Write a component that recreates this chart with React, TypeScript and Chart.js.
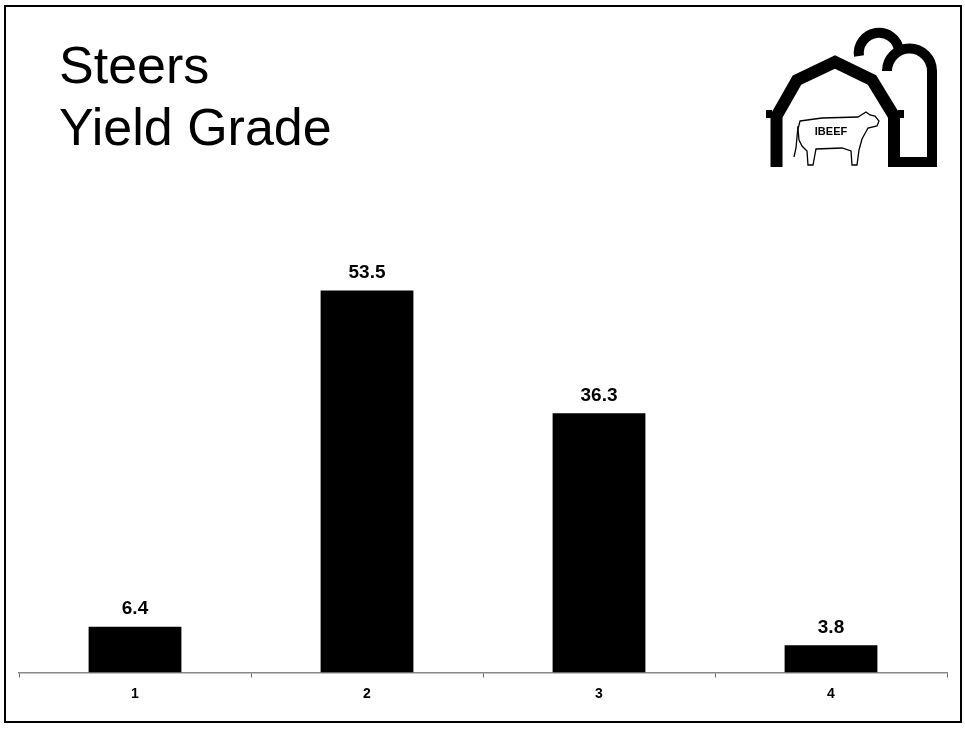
import React, { useEffect, useRef } from "react";
import { Chart, registerables } from "chart.js";

Chart.register(...registerables);

const titleLines = ["Steers", "Yield Grade"];
const categories = ["1", "2", "3", "4"];
const yieldGradePct = [6.4, 53.5, 36.3, 3.8];
const yMin = 0;
const yMax = 60;

const FONT = '"Liberation Sans", Arial, Helvetica, sans-serif';

const valueLabelPlugin = {
  id: "valueLabels",
  afterDatasetsDraw(chart: any) {
    const ctx = chart.ctx;
    const meta = chart.getDatasetMeta(0);
    const data = chart.data.datasets[0].data as number[];
    ctx.save();
    ctx.fillStyle = "#000";
    ctx.font = `bold 19px ${FONT}`;
    ctx.textAlign = "center";
    ctx.textBaseline = "alphabetic";
    meta.data.forEach((bar: any, i: number) => {
      ctx.fillText(Number(data[i]).toFixed(1), bar.x, bar.y - 12.5);
    });
    ctx.restore();
  },
};

function Logo() {
  return (
    <svg
      width={200}
      height={160}
      viewBox="750 20 200 160"
      style={{ position: "absolute", left: 750, top: 20 }}
    >
      {/* back silo arch */}
      <path d="M 859 56 A 20 20 0 0 1 899 50" fill="none" stroke="#000" strokeWidth={10} />
      {/* front silo */}
      <path
        d="M 887 71 A 22.5 22.5 0 0 1 932 71 L 932 162 L 890 162"
        fill="#fff"
        stroke="#000"
        strokeWidth={10}
      />
      {/* barn */}
      <polyline
        points="776.5,167 776.5,116 797,80 835,62 872,80 894,116 894,167"
        fill="none"
        stroke="#000"
        strokeWidth={12}
        strokeLinejoin="miter"
      />
      <rect x={766} y={110} width={6} height={8} fill="#000" />
      <rect x={898} y={110} width={6} height={8} fill="#000" />
      {/* cow */}
      <path
        d="M 800 121 L 822 118 L 858 117 L 866 112 L 870 115 L 875 116 L 879 121 L 877 126 L 868 128 L 862 139 L 859 150 L 857 165 L 852 165 L 851 151 L 842 148 L 816 149 L 813 165 L 808 165 L 807 151 L 802 146 L 799 140 L 798 129 Z"
        fill="#fff"
        stroke="#000"
        strokeWidth={1.3}
      />
      <path d="M 798 126 L 796 148 L 794 157" fill="none" stroke="#000" strokeWidth={1.3} />
      <text
        x={831}
        y={135}
        textAnchor="middle"
        fontFamily={FONT}
        fontWeight="bold"
        fontSize={11}
        fill="#000"
      >
        IBEEF
      </text>
    </svg>
  );
}

export default function App() {
  const canvasRef = useRef<HTMLCanvasElement | null>(null);

  useEffect(() => {
    if (!canvasRef.current) return;
    const chart = new Chart(canvasRef.current, {
      type: "bar",
      data: {
        labels: categories,
        datasets: [
          {
            data: yieldGradePct,
            backgroundColor: "#000",
            borderColor: "#000",
            borderWidth: 0,
            barPercentage: 0.5,
            categoryPercentage: 0.8,
          },
        ],
      },
      options: {
        responsive: false,
        animation: false,
        devicePixelRatio: 1,
        layout: { padding: { left: 19, right: 18, top: 244, bottom: 0 } },
        plugins: {
          legend: { display: false },
          title: { display: false },
          tooltip: { enabled: false },
        },
        scales: {
          x: {
            grid: {
              display: true,
              drawOnChartArea: false,
              drawTicks: true,
              tickLength: 5,
              color: "#606060",
              offset: true,
            },
            border: { display: true, color: "#888888", width: 1.5 },
            ticks: {
              color: "#000",
              padding: 8,
              font: { family: FONT, size: 14, weight: "bold" },
            },
            afterFit(axis: any) {
              axis.height = 57.5;
            },
          },
          y: {
            display: false,
            min: yMin,
            max: yMax,
          },
        },
      },
      plugins: [valueLabelPlugin],
    });
    return () => chart.destroy();
  }, []);

  return (
    <div style={{ position: "absolute", left: 0, top: 0, width: 965, height: 730, background: "#fff" }}>
      <div
        style={{
          position: "absolute",
          left: 4,
          top: 5,
          width: 958,
          height: 718,
          border: "2px solid #000",
          boxSizing: "border-box",
        }}
      />
      <canvas
        ref={canvasRef}
        width={965}
        height={730}
        style={{ position: "absolute", left: 0, top: 0, width: 965, height: 730 }}
      />
      <div
        style={{
          position: "absolute",
          left: 59,
          top: 34,
          fontFamily: FONT,
          fontSize: 52,
          lineHeight: "62px",
          color: "#000",
          whiteSpace: "nowrap",
        }}
      >
        {titleLines.map((t) => (
          <div key={t}>{t}</div>
        ))}
      </div>
      <Logo />
    </div>
  );
}
